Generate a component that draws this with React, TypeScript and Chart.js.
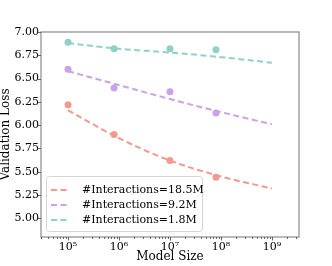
import React, { useEffect, useRef } from 'react';
import { Chart, registerables } from 'chart.js';

Chart.register(...registerables);

// ---- data ----
const modelSizes = [1e5, 8e5, 1e7, 8e7];
const fitSizes = [1e5, 1e6, 1e7, 1e8, 1e9];
const loss18_5M = [6.22, 5.9, 5.62, 5.44];
const loss9_2M = [6.6, 6.4, 6.36, 6.13];
const loss1_8M = [6.89, 6.82, 6.82, 6.81];
const fit18_5M = [6.16, 5.86, 5.62, 5.45, 5.32];
const fit9_2M = [6.58, 6.43, 6.28, 6.14, 6.01];
const fit1_8M = [6.88, 6.82, 6.78, 6.73, 6.67];
const seriesLabels = ['#Interactions=18.5M', '#Interactions=9.2M', '#Interactions=1.8M'];
const seriesColors = ['#F4998D', '#C9A3E6', '#8FD1C9'];
const xMajorTicks = [1e5, 1e6, 1e7, 1e8, 1e9];
const xTickLabels = ['10\u2075', '10\u2076', '10\u2077', '10\u2078', '10\u2079'];
const yTicks = [5.0, 5.25, 5.5, 5.75, 6.0, 6.25, 6.5, 6.75, 7.0];

const X_MIN = 2.95e4;
const X_MAX = 3.4e9;
const Y_MIN = 4.8;
const Y_MAX = 7.0;
const FONT = "'DejaVu Serif', serif";
const SPINE = '#8a8a8a';

const framePlugin = {
  id: 'frame',
  afterDraw(chart: any) {
    const { ctx, chartArea } = chart;
    const xs = chart.scales.x;
    const ys = chart.scales.y;
    ctx.save();
    ctx.strokeStyle = SPINE;
    ctx.lineWidth = 1.2;
    ctx.strokeRect(chartArea.left, chartArea.top, chartArea.right - chartArea.left, chartArea.bottom - chartArea.top);
    // x ticks (major + minor)
    ctx.strokeStyle = '#444';
    ctx.lineWidth = 0.8;
    for (let e = 4; e <= 9; e++) {
      for (let m = 1; m <= 9; m++) {
        const v = m * Math.pow(10, e);
        if (v < X_MIN || v > X_MAX) continue;
        const px = Math.round(xs.getPixelForValue(v)) + 0.5;
        const len = m === 1 ? 3.5 : 2;
        ctx.beginPath();
        ctx.moveTo(px, chartArea.bottom);
        ctx.lineTo(px, chartArea.bottom + len);
        ctx.stroke();
      }
    }
    for (const v of yTicks) {
      const py = Math.round(ys.getPixelForValue(v)) + 0.5;
      ctx.beginPath();
      ctx.moveTo(chartArea.left, py);
      ctx.lineTo(chartArea.left - 3.5, py);
      ctx.stroke();
    }
    // legend
    const lx = chartArea.left + 5;
    const lw = 156;
    const lh = 55;
    const ly = chartArea.bottom - 6 - lh;
    ctx.fillStyle = 'rgba(255,255,255,0.85)';
    ctx.strokeStyle = '#d4d4d4';
    ctx.lineWidth = 1;
    ctx.beginPath();
    (ctx as any).roundRect(lx + 0.5, ly + 0.5, lw, lh, 3);
    ctx.fill();
    ctx.stroke();
    ctx.font = `11px ${FONT}`;
    ctx.textBaseline = 'middle';
    ctx.textAlign = 'left';
    seriesLabels.forEach((label, i) => {
      const y = ly + 14 + i * 15;
      ctx.strokeStyle = seriesColors[i];
      ctx.lineWidth = 2;
      ctx.setLineDash([6, 3.5]);
      ctx.beginPath();
      ctx.moveTo(lx + 5, y);
      ctx.lineTo(lx + 24, y);
      ctx.stroke();
      ctx.setLineDash([]);
      ctx.fillStyle = '#000';
      ctx.fillText(label, lx + 36, y);
    });
    ctx.restore();
  },
};

export default function App() {
  const ref = useRef<HTMLCanvasElement | null>(null);
  useEffect(() => {
    if (!ref.current) return;
    const fits = [fit18_5M, fit9_2M, fit1_8M];
    const pts = [loss18_5M, loss9_2M, loss1_8M];
    const datasets: any[] = [];
    fits.forEach((f, i) => {
      datasets.push({
        type: 'line',
        label: seriesLabels[i],
        data: fitSizes.map((x, j) => ({ x, y: f[j] })),
        borderColor: seriesColors[i],
        borderWidth: 2,
        borderDash: [6, 3.5],
        pointRadius: 0,
        cubicInterpolationMode: 'monotone',
        fill: false,
      });
    });
    pts.forEach((p, i) => {
      datasets.push({
        type: 'scatter',
        label: seriesLabels[i] + ' data',
        data: modelSizes.map((x, j) => ({ x, y: p[j] })),
        backgroundColor: seriesColors[i],
        borderColor: seriesColors[i],
        borderWidth: 0,
        pointRadius: 3.5,
        showLine: false,
      });
    });
    const chart = new Chart(ref.current, {
      type: 'line',
      data: { datasets },
      options: {
        animation: false,
        responsive: false,
        maintainAspectRatio: false,
        layout: { padding: { top: 32, right: 33, left: 0, bottom: 0 } },
        plugins: { legend: { display: false }, tooltip: { enabled: false } },
        scales: {
          x: {
            type: 'logarithmic',
            min: X_MIN,
            max: X_MAX,
            afterBuildTicks: (scale: any) => {
              scale.ticks = xMajorTicks.map((v) => ({ value: v }));
            },
            afterFit: (scale: any) => {
              scale.height = 29;
            },
            grid: { display: false, drawTicks: false },
            border: { display: false },
            ticks: {
              autoSkip: false,
              maxRotation: 0,
              padding: 4,
              color: '#000',
              font: { family: FONT, size: 11 },
              callback: (v: any) => {
                const i = xMajorTicks.indexOf(Number(v));
                return i >= 0 ? xTickLabels[i] : '';
              },
            },
            title: {
              display: true,
              text: 'Model Size',
              color: '#000',
              font: { family: FONT, size: 12, lineHeight: 1.2 },
              padding: { top: 0, bottom: 2 },
            },
          },
          y: {
            type: 'linear',
            min: Y_MIN,
            max: Y_MAX,
            afterBuildTicks: (scale: any) => {
              scale.ticks = yTicks.map((v) => ({ value: v }));
            },
            afterFit: (scale: any) => {
              scale.width = 41;
            },
            grid: { display: false, drawTicks: false },
            border: { display: false },
            ticks: {
              padding: 2,
              color: '#000',
              font: { family: FONT, size: 11 },
              callback: (v: any) => Number(v).toFixed(2),
            },
            title: {
              display: true,
              text: 'Validation Loss',
              color: '#000',
              font: { family: FONT, size: 12, lineHeight: 1 },
              padding: 0,
            },
          },
        },
      },
      plugins: [framePlugin],
    });
    return () => chart.destroy();
  }, []);
  return (
    <div style={{ position: 'absolute', left: 0, top: 0, width: 332, height: 266, background: '#fff' }}>
      <canvas ref={ref} width={332} height={266} style={{ width: 332, height: 266 }} />
    </div>
  );
}
